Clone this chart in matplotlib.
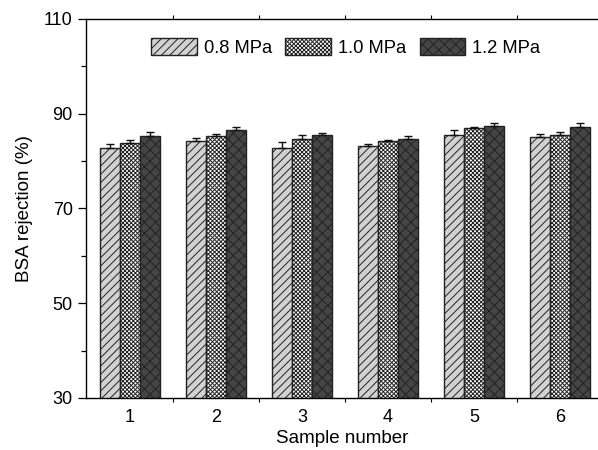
import numpy as np
import matplotlib
matplotlib.use('Agg')
import matplotlib.pyplot as plt
from matplotlib.ticker import FixedLocator

# --- data ---
samples = [1, 2, 3, 4, 5, 6]
series_labels = ['0.8 MPa', '1.0 MPa', '1.2 MPa']
rej_08 = [82.7, 84.2, 82.8, 83.1, 85.6, 85.0]
rej_10 = [83.8, 85.3, 84.7, 84.2, 86.9, 85.5]
rej_12 = [85.3, 86.6, 85.5, 84.7, 87.4, 87.1]
err_08 = [1.0, 0.7, 1.3, 0.55, 0.85, 0.8]
err_10 = [0.6, 0.35, 0.85, 0.3, 0.25, 0.65]
err_12 = [0.9, 0.65, 0.45, 0.5, 0.55, 1.0]
y_major = [30, 50, 70, 90, 110]
y_minor = [40, 60, 80, 100]

plt.rcParams['font.family'] = ['Liberation Sans', 'DejaVu Sans']
plt.rcParams['hatch.linewidth'] = 0.7

fig = plt.figure(figsize=(5.98, 4.5), dpi=100)
ax = fig.add_axes([0.1438, 0.1156, 0.8562, 0.8424])

x = np.array(samples, dtype=float)
w = 0.235
styles = [
    dict(color='#d2d2d2', hatch='////'),
    dict(color='#ffffff', hatch='xxxxxxxx'),
    dict(color='#454545', hatch='xxx'),
]
vals = [rej_08, rej_10, rej_12]
errs = [err_08, err_10, err_12]

for i, (v, e, st) in enumerate(zip(vals, errs, styles)):
    pos = x + (i - 1) * w
    ax.bar(pos, v, width=w, color=st['color'], hatch=st['hatch'],
           edgecolor='#222222', linewidth=1.0, label=series_labels[i],
           zorder=2)
    ax.errorbar(pos, v, yerr=[np.zeros(len(e)), e], fmt='none',
                ecolor='#111111', elinewidth=1.0, capsize=3, capthick=1.0,
                zorder=3)

ax.set_xlim(0.49, 6.44)
ax.set_ylim(30, 110)
ax.yaxis.set_major_locator(FixedLocator(y_major))
ax.yaxis.set_minor_locator(FixedLocator(y_minor))
ax.set_xticks(samples)
ax.set_xticklabels([str(s) for s in samples])
ax.xaxis.set_minor_locator(FixedLocator([1.5, 2.5, 3.5, 4.5, 5.5]))
ax.tick_params(axis='x', which='major', length=0, labelsize=13, pad=8)
ax.tick_params(axis='x', which='minor', length=3, direction='out',
               top=True, width=0.8)
ax.tick_params(axis='y', which='major', length=6, direction='out',
               labelsize=13, width=0.9)
ax.tick_params(axis='y', which='minor', length=3.5, direction='out',
               width=0.9)
ax.spines['right'].set_visible(False)
for s in ['left', 'bottom', 'top']:
    ax.spines[s].set_linewidth(1.0)

ax.set_xlabel('Sample number', fontsize=13.5, labelpad=3)
ax.set_ylabel('BSA rejection (%)', fontsize=13.5, labelpad=8)

ax.legend(loc='upper center', bbox_to_anchor=(0.507, 0.992), ncol=3,
          frameon=False, fontsize=13.2, handlelength=2.5, handleheight=1.0,
          columnspacing=0.75, handletextpad=0.35)

fig.savefig('out.png', dpi=100)
